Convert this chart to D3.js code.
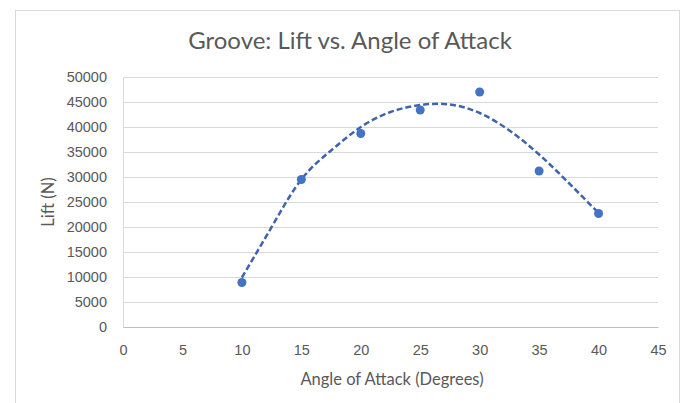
<!DOCTYPE html>
<html>
<head>
<meta charset="utf-8">
<script src="https://cdn.jsdelivr.net/npm/d3@7"></script>
<style>
  html, body { margin: 0; padding: 0; background: #fff; }
  svg { display: block; font-family: Lato, "Open Sans", sans-serif; }
</style>
</head>
<body>
<svg width="692" height="403"></svg>
<script>
(function () {

  const width = 692;
  const height = 403;

  // measured lift at each angle of attack
  const ANGLES = [10, 15, 20, 25, 30, 35, 40];
  const LIFT = [8900, 29500, 38700, 43400, 47000, 31200, 22700];

  // polynomial trendline
  const TREND_ANGLES = [10, 12.5, 15, 17.5, 20, 22.5, 25, 27.5, 30, 32.5, 35, 37.5, 40];
  const TREND_LIFT = [9900, 20000, 29500, 35300, 40000, 43000, 44400, 44500, 42800, 39300, 34500, 28800, 22800];

  const X_TICKS = [0, 5, 10, 15, 20, 25, 30, 35, 40, 45];
  const Y_TICKS = [0, 5000, 10000, 15000, 20000, 25000, 30000, 35000, 40000, 45000, 50000];

  const margin = { left: 123, right: 34, top: 77, bottom: 76 };

  const xScale = d3.scaleLinear().domain([0, 45]).range([margin.left, width - margin.right]);
  const yScale = d3.scaleLinear().domain([0, 50000]).range([height - margin.bottom, margin.top]);

  const svg = d3.select("svg");

  // chart frame
  svg.append("rect")
    .attr("x", 15.5).attr("y", 10.5)
    .attr("width", 664).attr("height", 400)
    .attr("fill", "#fff")
    .attr("stroke", "#d9d9d9");

  svg.append("text")
    .attr("x", 350).attr("y", 49)
    .attr("text-anchor", "middle")
    .attr("font-size", 24)
    .attr("fill", "#595959")
    .text("Groove: Lift vs. Angle of Attack");

  // horizontal gridlines + y labels
  const yAxis = d3.axisLeft(yScale)
    .tickValues(Y_TICKS)
    .tickSize(-(xScale(45) - xScale(0)))
    .tickPadding(16)
    .tickFormat(d3.format("d"));

  const gy = svg.append("g")
    .attr("transform", `translate(${xScale(0)},0)`)
    .call(yAxis);
  gy.select(".domain").attr("stroke", "#d9d9d9");
  gy.selectAll(".tick line").attr("stroke", "#d9d9d9");
  gy.selectAll(".tick text").attr("fill", "#595959").attr("font-size", 14.5);

  const xAxis = d3.axisBottom(xScale)
    .tickValues(X_TICKS)
    .tickSize(0)
    .tickPadding(18);

  const gx = svg.append("g")
    .attr("transform", `translate(0,${yScale(0)})`)
    .call(xAxis);
  gx.select(".domain").attr("stroke", "#bfbfbf");
  gx.selectAll(".tick text").attr("fill", "#595959").attr("font-size", 14.5);

  // axis titles
  svg.append("text")
    .attr("x", 392).attr("y", 385)
    .attr("text-anchor", "middle")
    .attr("font-size", 16.5)
    .attr("fill", "#595959")
    .text("Angle of Attack (Degrees)");

  svg.append("text")
    .attr("transform", "translate(54,202) rotate(-90)")
    .attr("text-anchor", "middle")
    .attr("font-size", 16.5)
    .attr("fill", "#595959")
    .text("Lift (N)");

  // trendline
  const line = d3.line()
    .x((d, i) => xScale(TREND_ANGLES[i]))
    .y(d => yScale(d))
    .curve(d3.curveNatural);

  svg.append("path")
    .datum(TREND_LIFT)
    .attr("d", line)
    .attr("fill", "none")
    .attr("stroke", "#3e64ad")
    .attr("stroke-width", 2.5)
    .attr("stroke-dasharray", "6,3");

  // data points
  svg.selectAll(".pt")
    .data(LIFT)
    .enter()
    .append("circle")
    .classed("pt", true)
    .attr("cx", (d, i) => xScale(ANGLES[i]))
    .attr("cy", d => yScale(d))
    .attr("r", 4.5)
    .attr("fill", "#4472c4");
})();
</script>
</body>
</html>
